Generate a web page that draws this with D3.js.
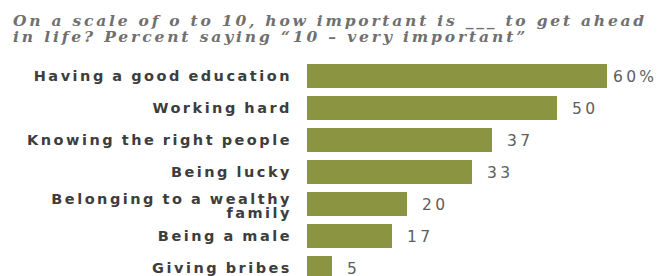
<!DOCTYPE html>
<html><head><meta charset="utf-8">
<script src="https://cdn.jsdelivr.net/npm/d3@7"></script>
<style>
html,body{margin:0;padding:0;background:#fff;}
svg{display:block;}
</style></head>
<body>
<svg id="chart" width="665" height="276"></svg>
<script>
const titleLines = ["On a scale of o to 10, how important is ___ to get ahead", "in life? Percent saying \u201c10 \u2013 very important\u201d"];
const categories = [["Having a good education"], ["Working hard"], ["Knowing the right people"], ["Being lucky"], ["Belonging to a wealthy", "family"], ["Being a male"], ["Giving bribes"]];
const values = [60, 50, 37, 33, 20, 17, 5];
const valueLabels = ["60%", "50", "37", "33", "20", "17", "5"];

const svg = d3.select("#chart");
const keys = categories.map(c => c.join(" "));

const x = d3.scaleLinear().domain([0, 60]).range([307, 607]);
const y = d3.scaleBand().domain(keys).range([60, 60 + 32 * 7]).paddingInner(0.25).paddingOuter(0.125);

// title
const title = svg.append("g");
const titleWidths = [634, 515];
titleLines.forEach((t, i) => {
  const tx = title.append("text")
    .attr("x", 13).attr("y", 26 + i * 16)
    .attr("font-family", "DejaVu Serif").attr("font-style", "italic").attr("font-weight", "bold")
    .attr("font-size", 15.5).attr("fill", "#707070")
    .text(t);
  const w = tx.node().getComputedTextLength();
  tx.attr("letter-spacing", (titleWidths[i] - w) / t.length);
});

// bars
svg.append("g").selectAll("rect").data(values).join("rect")
  .attr("x", x(0))
  .attr("y", (d, i) => y(keys[i]))
  .attr("width", d => x(d) - x(0))
  .attr("height", y.bandwidth())
  .attr("fill", "#8b9440");

// category labels
const lab = svg.append("g");
categories.forEach((lines, i) => {
  const cy = y(keys[i]) + y.bandwidth() / 2;
  const n = lines.length;
  lines.forEach((l, j) => {
    lab.append("text")
      .attr("x", 292).attr("text-anchor", "end")
      .attr("y", cy + (j - (n - 1) / 2) * 14 + 5 + (n > 1 ? 2 : 0))
      .attr("font-family", "DejaVu Sans").attr("font-weight", "bold")
      .attr("font-size", 14.5).attr("letter-spacing", 2.5).attr("word-spacing", -1)
      .attr("fill", "#3d3d3d")
      .text(l);
  });
});

// value labels
svg.append("g").selectAll("text").data(values).join("text")
  .attr("x", (d, i) => x(d) + (i === 0 ? 6 : 15))
  .attr("y", (d, i) => y(keys[i]) + y.bandwidth() / 2 + 5.5)
  .attr("font-family", "DejaVu Sans")
  .attr("font-size", 15.5).attr("letter-spacing", 3.3).attr("fill", "#5e5e5e")
  .text((d, i) => valueLabels[i]);
</script>
</body></html>
